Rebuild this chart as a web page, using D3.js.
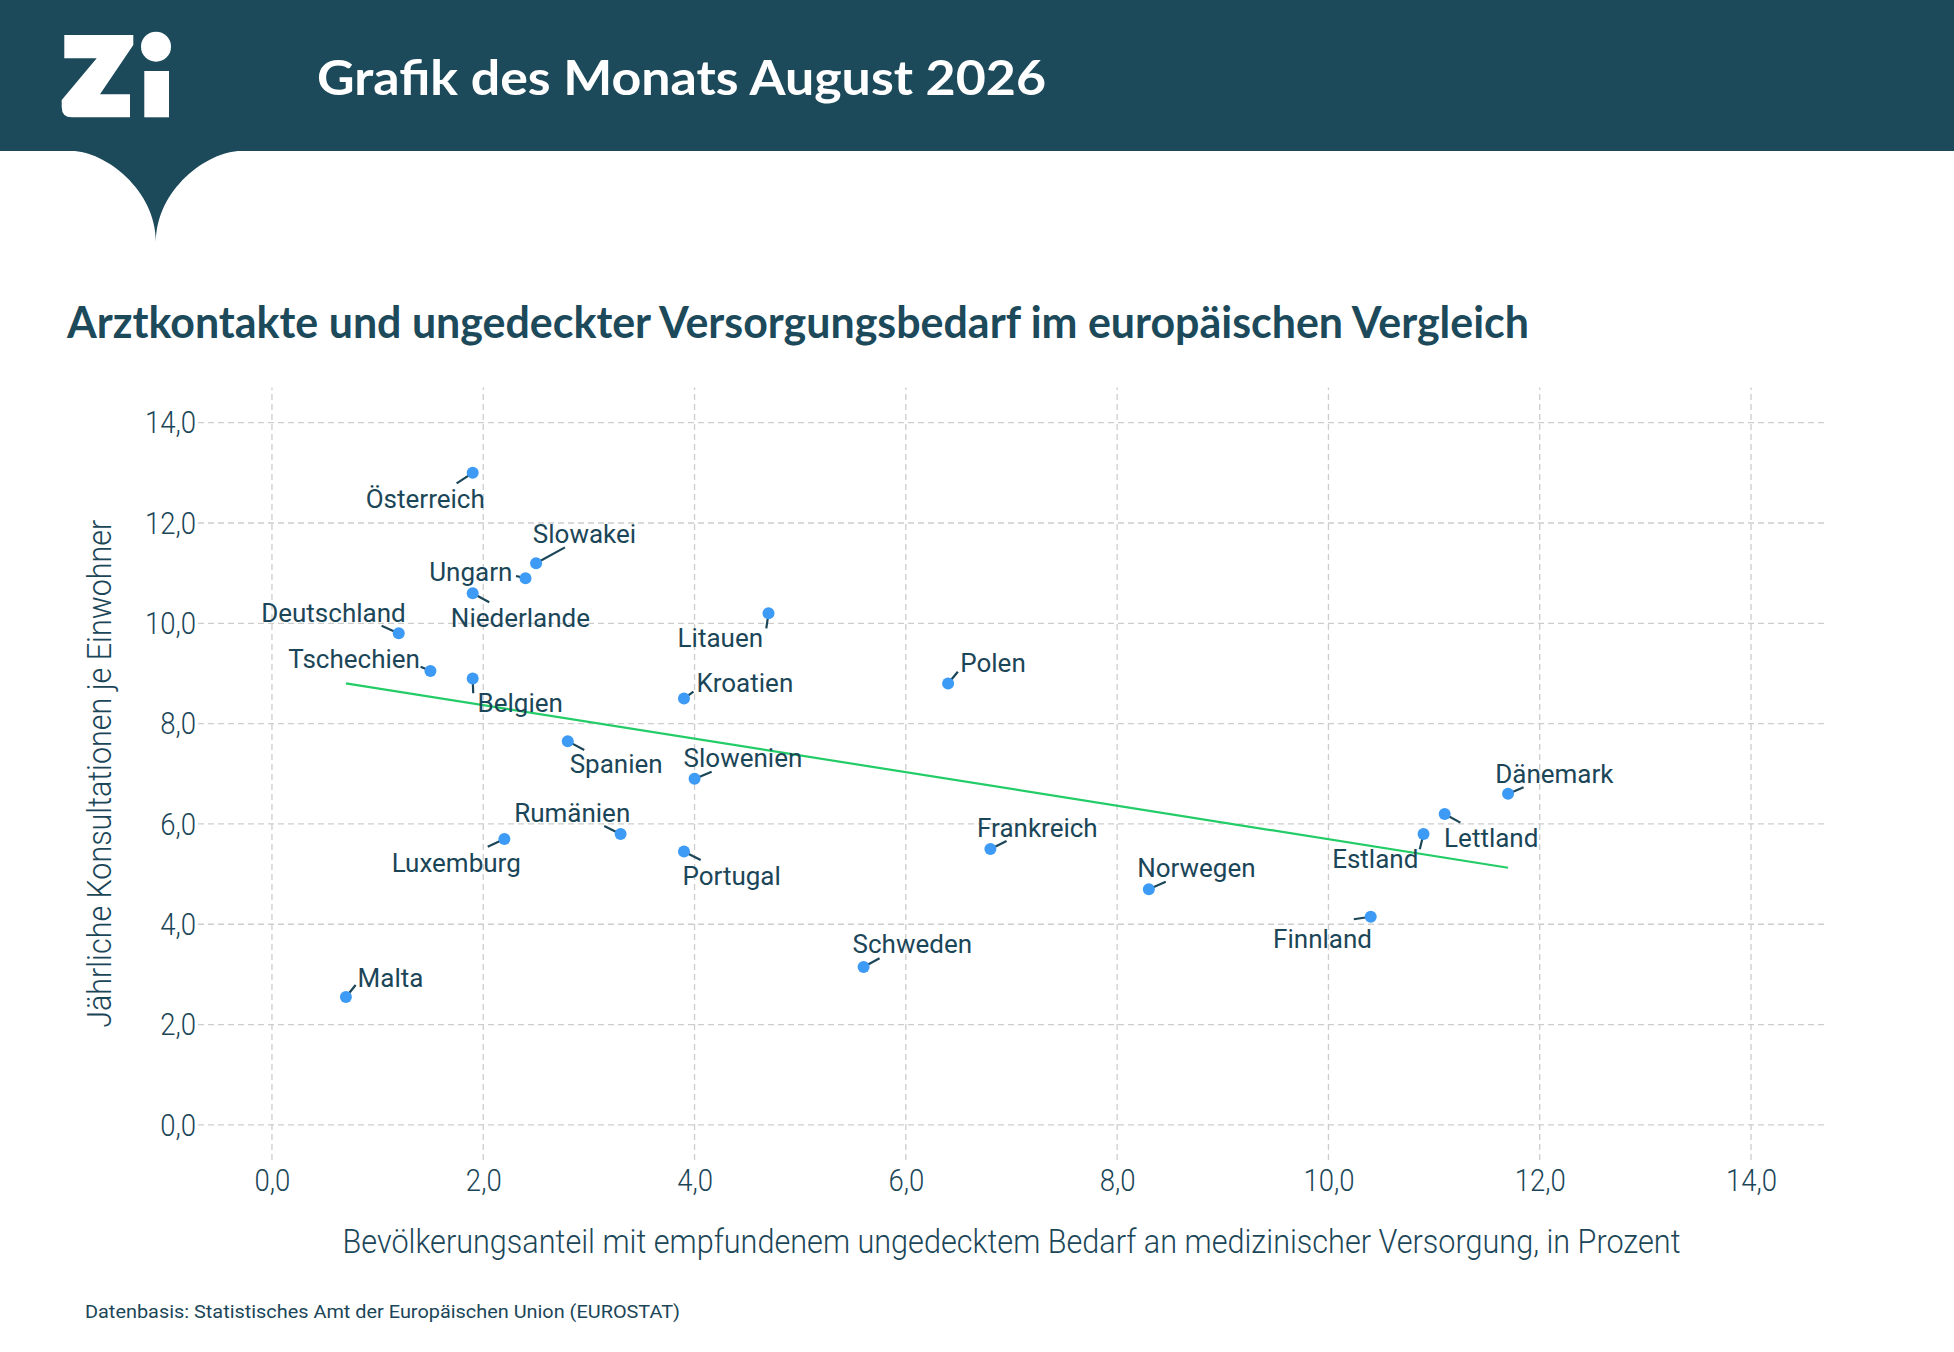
<!DOCTYPE html>
<html><head><meta charset="utf-8">
<script src="https://cdn.jsdelivr.net/npm/d3@7"></script>
<style>body{margin:0;background:#fff;} svg{display:block;}</style>
</head><body>
<script>
// ---------- data ----------
const countries = ["Österreich","Slowakei","Ungarn","Niederlande","Deutschland","Tschechien","Belgien","Litauen","Kroatien","Polen","Spanien","Slowenien","Dänemark","Lettland","Estland","Rumänien","Luxemburg","Portugal","Frankreich","Norwegen","Finnland","Schweden","Malta"];
const unmetNeed = [1.9,2.5,2.4,1.9,1.2,1.5,1.9,4.7,3.9,6.4,2.8,4.0,11.7,11.1,10.9,3.3,2.2,3.9,6.8,8.3,10.4,5.6,0.7];
const consultations = [13.0,11.2,10.9,10.6,9.8,9.05,8.9,10.2,8.5,8.8,7.65,6.9,6.6,6.2,5.8,5.8,5.7,5.45,5.5,4.7,4.15,3.15,2.55];
const xTickValues = [0,2,4,6,8,10,12,14];
const yTickValues = [0,2,4,6,8,10,12,14];
const headerTitle = "Grafik des Monats August 2026";
const chartTitle = "Arztkontakte und ungedeckter Versorgungsbedarf im europäischen Vergleich";
const xAxisTitle = "Bevölkerungsanteil mit empfundenem ungedecktem Bedarf an medizinischer Versorgung, in Prozent";
const yAxisTitle = "Jährliche Konsultationen je Einwohner";
const caption = "Datenbasis: Statistisches Amt der Europäischen Union (EUROSTAT)";

// ---------- label layout (repelled label centres and leader ends, data units) ----------
const labelCenterX = [1.451,2.958,1.882,2.352,0.582,0.778,2.350,4.244,4.476,6.825,3.258,4.458,12.138,11.541,10.443,2.842,1.744,4.351,7.245,8.750,9.944,6.061,1.122];
const labelCenterY = [12.486,11.788,11.030,10.114,10.213,9.296,8.419,9.715,8.818,9.205,7.192,7.323,6.992,5.717,5.298,6.227,5.218,4.965,5.928,5.131,3.703,3.604,2.938];
const leaderEndX = [1.748,2.773,2.310,2.057,1.038,1.407,1.905,4.679,3.990,6.492,2.956,4.162,11.847,11.249,10.864,3.145,2.042,4.058,6.953,8.460,10.240,5.751,0.792];
const leaderEndY = [12.790,11.515,10.943,10.419,9.952,9.135,8.605,9.900,8.637,9.035,7.475,7.042,6.731,6.026,5.495,5.960,5.547,5.282,5.661,4.849,4.100,3.323,2.790];

// ---------- setup ----------
const W = 1954, H = 1352;
const dark = "#1c4a5b", ink = "#1b4658", pointBlue = "#3d9bf5", trendGreen = "#22cc66";
const svg = d3.select("body").append("svg").attr("width", W).attr("height", H);

// header band with drip
svg.append("path")
  .attr("d","M0,0 H1954 V151 H241 C207,151 156,190 156,242 C156,190 105,151 71.7,151 H0 Z")
  .attr("fill", dark);
// Zi logo
svg.append("path")
  .attr("d","M64.3,35 H133.3 V45 L100,94.3 H130 V117.3 H72 Q61.7,117.3 61.7,107 V100 L96.7,58.3 H64.3 Z")
  .attr("fill","#fff");
svg.append("circle").attr("cx",156).attr("cy",46.7).attr("r",15).attr("fill","#fff");
svg.append("rect").attr("x",144.3).attr("y",71).attr("width",24.7).attr("height",46.3).attr("fill","#fff");

svg.append("text").attr("x",317).attr("y",95).text(headerTitle)
  .attr("font-family","Lato, 'Open Sans', sans-serif").attr("font-weight",700)
  .attr("font-size",48).attr("fill","#fff")
  .attr("textLength",729).attr("lengthAdjust","spacingAndGlyphs");

svg.append("text").attr("x",67).attr("y",338).text(chartTitle)
  .attr("font-family","Lato, 'Open Sans', sans-serif").attr("font-weight",700)
  .attr("font-size",44).attr("fill",dark)
  .attr("textLength",1462).attr("lengthAdjust","spacingAndGlyphs");

// ---------- scales ----------
const x = d3.scaleLinear().domain([-0.7,14.7]).range([198,1825]);
const y = d3.scaleLinear().domain([-0.7,14.7]).range([1160,387.6]);
const fmt = v => d3.format(".1f")(v).replace(".", ",");

// gridlines
const grid = svg.append("g").attr("stroke","#cdcdcd").attr("stroke-width",1.3).attr("stroke-dasharray","6,4");
grid.selectAll("line.h").data(yTickValues).join("line").attr("class","h")
  .attr("x1",x.range()[0]).attr("x2",x.range()[1]).attr("y1",d=>y(d)).attr("y2",d=>y(d));
grid.selectAll("line.v").data(xTickValues).join("line").attr("class","v")
  .attr("y1",y.range()[0]).attr("y2",y.range()[1]).attr("x1",d=>x(d)).attr("x2",d=>x(d));

// axes (text only)
const yAxis = svg.append("g").attr("transform",`translate(${x.range()[0]},0)`)
  .call(d3.axisLeft(y).tickValues(yTickValues).tickFormat(fmt).tickSize(0).tickPadding(2));
const xAxis = svg.append("g").attr("transform",`translate(0,${y.range()[0]})`)
  .call(d3.axisBottom(x).tickValues(xTickValues).tickFormat(fmt).tickSize(0).tickPadding(8));
[xAxis,yAxis].forEach(a=>{
  a.select(".domain").remove();
  a.selectAll("text").attr("font-family","Roboto, sans-serif").attr("font-size",32).attr("fill",ink).attr("font-weight",300)
    .each(function(){
      const w = this.getComputedTextLength();
      d3.select(this).attr("textLength", w*0.86).attr("lengthAdjust","spacingAndGlyphs");
    });
});

// axis titles
svg.append("text").attr("x",(x.range()[0]+x.range()[1])/2).attr("y",1253).attr("text-anchor","middle")
  .text(xAxisTitle).attr("font-family","Roboto, sans-serif").attr("font-size",33).attr("fill",ink).attr("font-weight",300)
  .attr("textLength",1338).attr("lengthAdjust","spacingAndGlyphs");
svg.append("text").attr("transform",`translate(111,${(y.range()[0]+y.range()[1])/2}) rotate(-90)`).attr("text-anchor","middle")
  .text(yAxisTitle).attr("font-family","Roboto, sans-serif").attr("font-size",33).attr("fill",ink).attr("font-weight",300)
  .attr("textLength",508).attr("lengthAdjust","spacingAndGlyphs");

// caption
svg.append("text").attr("x",85).attr("y",1318).text(caption)
  .attr("font-family","Roboto, sans-serif").attr("font-size",19).attr("fill",ink)
  .attr("textLength",595).attr("lengthAdjust","spacingAndGlyphs");

// ---------- regression line (least squares from data) ----------
const mx = d3.mean(unmetNeed), my = d3.mean(consultations);
const slope = d3.sum(unmetNeed.map((v,i)=>(v-mx)*(consultations[i]-my))) / d3.sum(unmetNeed.map(v=>(v-mx)**2));
const icpt = my - slope*mx;
const [xmin,xmax] = d3.extent(unmetNeed);
svg.append("path")
  .datum([xmin,xmax])
  .attr("d", d3.line().x(d=>x(d)).y(d=>y(icpt+slope*d)))
  .attr("stroke",trendGreen).attr("stroke-width",2.2).attr("fill","none");

// ---------- points, leaders, labels ----------
const rows = countries.map((c,i)=>({c, vx:unmetNeed[i], vy:consultations[i],
  lx:labelCenterX[i], ly:labelCenterY[i], ex:leaderEndX[i], ey:leaderEndY[i]}));
const R = 6;
svg.append("g").selectAll("line").data(rows).join("line")
  .each(function(d){
    const px=x(d.vx), py=y(d.vy), qx=x(d.ex), qy=y(d.ey);
    const L=Math.hypot(qx-px,qy-py)||1;
    d3.select(this).attr("x1",px+(qx-px)/L*R*0.6).attr("y1",py+(qy-py)/L*R*0.6).attr("x2",qx).attr("y2",qy);
  })
  .attr("stroke",ink).attr("stroke-width",2.2);
svg.append("g").selectAll("circle").data(rows).join("circle")
  .attr("cx",d=>x(d.vx)).attr("cy",d=>y(d.vy)).attr("r",R).attr("fill",pointBlue);
svg.append("g").selectAll("text").data(rows).join("text")
  .attr("x",d=>x(d.lx)).attr("y",d=>y(d.ly)).attr("dy","0.35em").attr("text-anchor","middle")
  .text(d=>d.c).attr("font-family","Roboto, sans-serif").attr("font-size",26).attr("fill",ink);
</script>
</body></html>
